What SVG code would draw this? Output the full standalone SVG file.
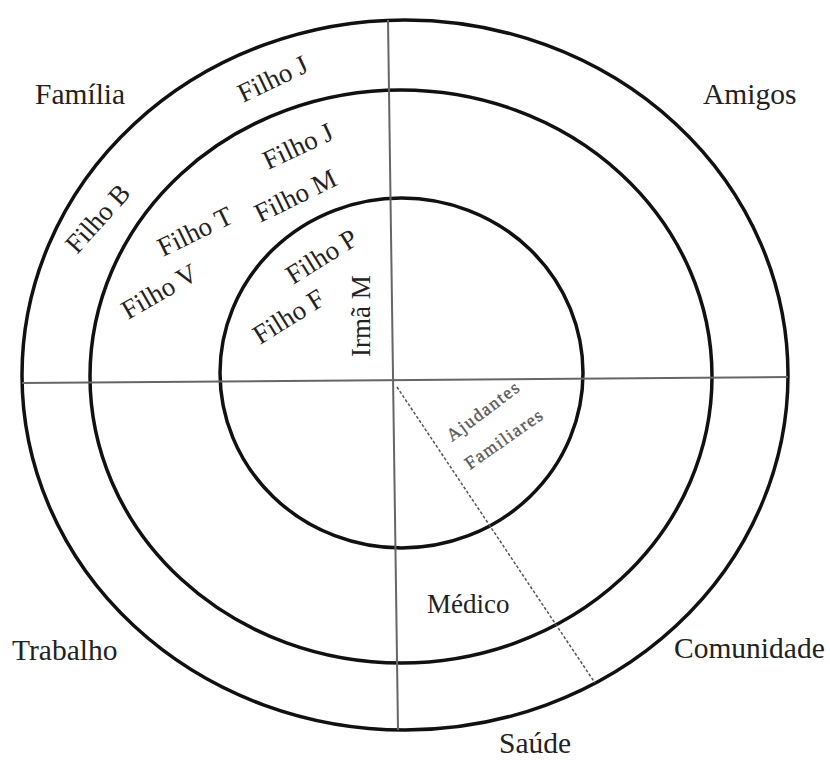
<svg xmlns="http://www.w3.org/2000/svg" width="830" height="760" viewBox="0 0 830 760">
<style>
.ring{fill:none;stroke:#111;stroke-width:3.5}
.axis{stroke:#666;stroke-width:2;fill:none}
.dash{stroke:#555;stroke-width:1.5;stroke-dasharray:3 2;fill:none}
.cat{font-family:"Liberation Serif","Times New Roman",serif;font-size:29.5px;fill:#222}
.lbl{font-family:"Liberation Serif","Times New Roman",serif;font-size:27px;fill:#222}
.small{font-family:"Liberation Serif","Times New Roman",serif;font-size:18px;fill:#5a5a5a;stroke:#5a5a5a;stroke-width:0.4;letter-spacing:1.6px}
</style>
<rect width="830" height="760" fill="#fff"/>
<g id="rings">
<ellipse id="ring-outer" class="ring" cx="405" cy="375" rx="383" ry="355"/>
<ellipse id="ring-middle" class="ring" cx="401" cy="376.5" rx="311" ry="286.5"/>
<ellipse id="ring-inner" class="ring" cx="401.5" cy="373" rx="181.5" ry="175"/>
</g>
<g id="connectors">
<line class="axis" x1="388" y1="20" x2="398" y2="730"/>
<line class="axis" x1="22" y1="383" x2="788" y2="377"/>
<line class="dash" x1="397" y1="387" x2="595" y2="683"/>
</g>
<g id="sectors">
<text id="familia" class="cat" x="35" y="104">Família</text>
<text id="amigos" class="cat" x="703" y="104">Amigos</text>
<text id="trabalho" class="cat" x="12" y="660">Trabalho</text>
<text id="comunidade" class="cat" x="674" y="658">Comunidade</text>
<text id="saude" class="cat" x="499" y="753">Saúde</text>
</g>
<g id="members">
<text id="filho-j-outer" class="lbl" transform="translate(243,103) rotate(-25.5)">Filho J</text>
<text id="filho-b" class="lbl" transform="translate(77,255) rotate(-48)">Filho B</text>
<text id="filho-j-mid" class="lbl" transform="translate(268,170) rotate(-25)">Filho J</text>
<text id="filho-m" class="lbl" transform="translate(260,223) rotate(-26)">Filho M</text>
<text id="filho-t" class="lbl" transform="translate(163,257) rotate(-26)">Filho T</text>
<text id="filho-v" class="lbl" transform="translate(128,320) rotate(-30)">Filho V</text>
<text id="filho-p" class="lbl" transform="translate(293,285) rotate(-32)">Filho P</text>
<text id="filho-f" class="lbl" transform="translate(260,345) rotate(-32)">Filho F</text>
<text id="irma-m" class="lbl" transform="translate(370,357) rotate(-90)">Irmã M</text>
<text id="medico" class="lbl" x="427" y="613">Médico</text>
<text id="ajudantes" class="small" transform="translate(452,442) rotate(-37)">Ajudantes</text>
<text id="familiares" class="small" transform="translate(470,470) rotate(-35)">Familiares</text>
</g>
</svg>
